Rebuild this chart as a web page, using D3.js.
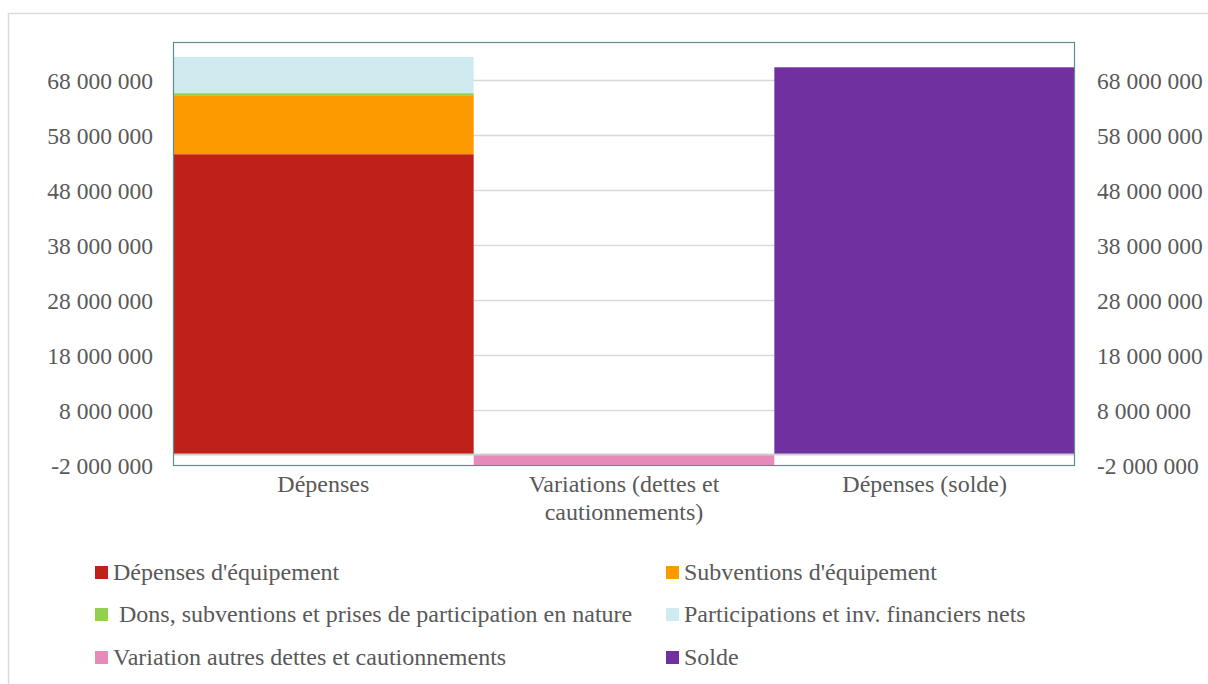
<!DOCTYPE html>
<html>
<head>
<meta charset="utf-8">
<script src="https://cdn.jsdelivr.net/npm/d3@7"></script>
<style>
  body { margin: 0; background: #fff; }
  svg text { font-family: "Liberation Serif", "Times New Roman", serif; fill: #595959; }
</style>
</head>
<body>
<div class="container"></div>
<script>
(function(){

var categories = ["Dépenses", "Variations (dettes et cautionnements)", "Dépenses (solde)"];
var seriesNames = [
  "Dépenses d'équipement",
  "Subventions d'équipement",
  " Dons, subventions et prises de participation en nature",
  "Participations et inv. financiers nets",
  "Variation autres dettes et cautionnements",
  "Solde"
];
var seriesColors = ["#C0201A", "#FD9A00", "#92D050", "#D0EBEF", "#E78AB9", "#7030A0"];

// one value per category
var depEquip  = [54600000, 0, 0];
var subvEquip = [10600000, 0, 0];
var dons      = [500000, 0, 0];
var particip  = [6600000, 0, 0];
var variation = [0, -1900000, 0];
var solde     = [0, 0, 70400000];

var tickValues = [-2000000, 8000000, 18000000, 28000000, 38000000, 48000000, 58000000, 68000000];

var width = 1208, height = 684;
var tickFont = "23.5px",
    textFont = "24px";

var svg = d3.select(".container")
  .append("svg")
  .attr("width", width)
  .attr("height", height);

// outer chart frame
svg.append("rect")
  .attr("x", 8.5).attr("y", 13.5)
  .attr("width", 1220).attr("height", 700)
  .attr("fill", "#fff")
  .attr("stroke", "#d9d9d9")
  .attr("stroke-width", 1.5);

var x = d3.scaleBand()
  .domain(categories)
  .range([173, 1075])
  .padding(0);

var y = d3.scaleLinear()
  .domain([-2000000, 75000000])
  .range([465.5, 42]);

var loc = d3.formatLocale({decimal: ",", thousands: " ", grouping: [3], currency: ["", ""], minus: "-"});
var fmt = loc.format(",");

// gridlines
svg.append("g")
  .selectAll("line")
  .data(tickValues.slice(1))
  .enter()
  .append("line")
  .attr("x1", 173).attr("x2", 1075)
  .attr("y1", function(d){ return y(d); })
  .attr("y2", function(d){ return y(d); })
  .attr("stroke", "#d9d9d9")
  .attr("stroke-width", 1.5);

// build table for stack
var valueArrays = [depEquip, subvEquip, dons, particip, variation, solde];
var table = categories.map(function(c, i){
  var row = {cat: c};
  seriesNames.forEach(function(s, j){ row[s] = valueArrays[j][i]; });
  return row;
});

var stack = d3.stack()
  .keys(seriesNames)
  .offset(d3.stackOffsetDiverging);
var layers = stack(table);

svg.append("g")
  .selectAll("g")
  .data(layers)
  .enter()
  .append("g")
  .attr("fill", function(d, i){ return seriesColors[i]; })
  .selectAll("rect")
  .data(function(d){ return d; })
  .enter()
  .append("rect")
  .attr("x", function(d){ return x(d.data.cat); })
  .attr("width", x.bandwidth())
  .attr("y", function(d){ return y(Math.max(d[0], d[1])); })
  .attr("height", function(d){ return Math.abs(y(d[0]) - y(d[1])); });

// zero axis line
svg.append("line")
  .attr("x1", 173).attr("x2", 1075)
  .attr("y1", y(0)).attr("y2", y(0))
  .attr("stroke", "#d0d0d0")
  .attr("stroke-width", 2);

// plot border
svg.append("rect")
  .attr("x", 173.5).attr("y", 42.5)
  .attr("width", 901).attr("height", 423)
  .attr("fill", "none")
  .attr("stroke", "#5F8D8F")
  .attr("stroke-width", 1.2);

// left axis
var yLeft = d3.axisLeft(y).tickValues(tickValues).tickFormat(fmt).tickSize(0).tickPadding(20);
svg.append("g")
  .attr("class", "axis")
  .attr("transform", "translate(173,0)")
  .call(yLeft)
  .call(function(g){ g.select(".domain").remove(); })
  .selectAll("text")
  .style("font-size", tickFont);

// right axis
var yRight = d3.axisRight(y).tickValues(tickValues).tickFormat(fmt).tickSize(0).tickPadding(22);
svg.append("g")
  .attr("class", "axis")
  .attr("transform", "translate(1075,0)")
  .call(yRight)
  .call(function(g){ g.select(".domain").remove(); })
  .selectAll("text")
  .style("font-size", tickFont);

svg.selectAll(".axis text").style("font-family", "'Liberation Serif', serif").attr("fill", "#595959");

// category labels (wrapped)
var catLines = {
  "Dépenses": ["Dépenses"],
  "Variations (dettes et cautionnements)": ["Variations (dettes et", "cautionnements)"],
  "Dépenses (solde)": ["Dépenses (solde)"]
};
categories.forEach(function(c){
  var t = svg.append("text")
    .attr("text-anchor", "middle")
    .style("font-size", textFont);
  catLines[c].forEach(function(line, k){
    t.append("tspan")
      .attr("x", x(c) + x.bandwidth() / 2)
      .attr("y", 492 + k * 28)
      .text(line);
  });
});

// legend
var legendCols = [95, 666];
var legendRows = [572, 614, 657];
var legend = svg.append("g")
  .selectAll("g")
  .data(seriesNames)
  .enter()
  .append("g")
  .attr("transform", function(d, i){
    return "translate(" + legendCols[i % 2] + "," + legendRows[Math.floor(i / 2)] + ")";
  });

legend.append("rect")
  .attr("x", 0).attr("y", -6)
  .attr("width", 13).attr("height", 13)
  .attr("fill", function(d, i){ return seriesColors[i]; });

legend.append("text")
  .attr("x", 18)
  .attr("y", 8)
  .style("font-size", textFont)
  .style("white-space", "pre")
  .text(function(d){ return d; });

})();
</script>
</body>
</html>
